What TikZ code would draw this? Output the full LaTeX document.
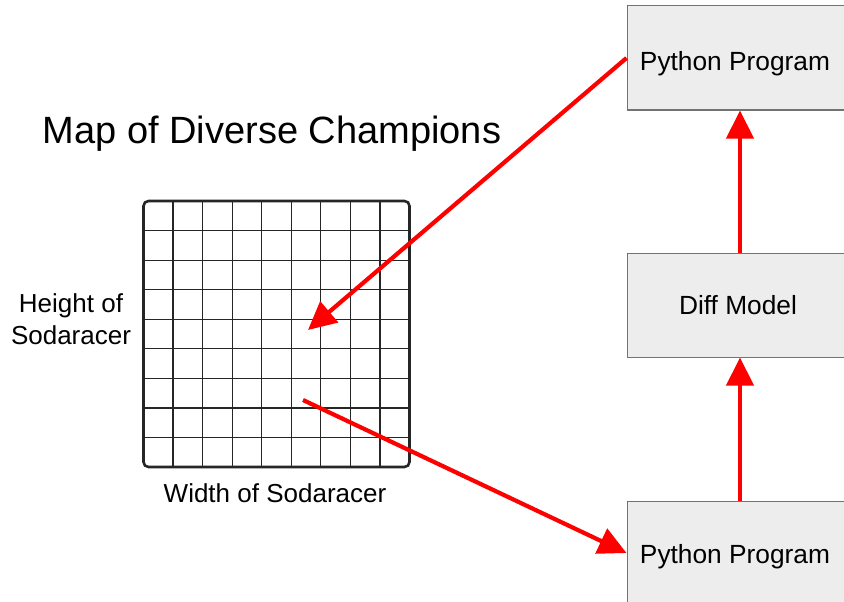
\documentclass[tikz,border=0pt]{standalone}
\usepackage{fontspec}
\setmainfont{Liberation Sans}
\usetikzlibrary{arrows.meta}
\begin{document}
\begin{tikzpicture}[x=1pt,y=-1pt,
  procbox/.style={draw=black!55,line width=1pt,fill=black!7,minimum width=222pt,minimum height=104pt,inner sep=0pt,font=\fontsize{26.3}{30}\selectfont},
  redarrow/.style={draw=red,line width=4.2pt,-{Triangle[length=28pt,width=27pt]}},
  lbl/.style={font=\fontsize{26}{32}\selectfont,align=center,inner sep=0pt}]
\useasboundingbox (0,0) rectangle (844,602);
\clip (0,0) rectangle (844,602);
\node[procbox,text height=25pt,text depth=0pt] (top) at (738,58) {\hspace*{-6pt}Python Program};
\node[procbox] (dm) at (738,305) {Diff Model};
\node[procbox,text height=23pt,text depth=2pt] (bot) at (738,553) {\hspace*{-6pt}Python Program};
% grid
\node[draw=black!85,line width=2.6pt,rounded corners=5pt,minimum width=266pt,minimum height=266pt,inner sep=0pt] (grid) at (276.5,334) {};
\foreach \i in {1,...,8}{
  \draw[black!85,line width=1.2pt] (143.5+\i*29.56,201) -- (143.5+\i*29.56,467);
  \draw[black!85,line width=1.2pt] (143.5,201+\i*29.56) -- (409.5,201+\i*29.56);
}
\node[font=\fontsize{38}{44}\selectfont,inner sep=0pt] (title) at (272,134) {Map of Diverse Champions};
\node[lbl] (hlab) at (71,319) {Height of\\Sodaracer};
\node[lbl] (wlab) at (275,493) {Width of Sodaracer};
\coordinate (p1) at (308,330);
\coordinate (p2) at (303,400);
\draw[redarrow] (top.west) -- (p1);
\draw[redarrow] (p2) -- (bot.west);
\draw[redarrow] ([xshift=2pt]dm.north) -- ([xshift=2pt]top.south);
\draw[redarrow] ([xshift=2pt]bot.north) -- ([xshift=2pt]dm.south);
\end{tikzpicture}
\end{document}
